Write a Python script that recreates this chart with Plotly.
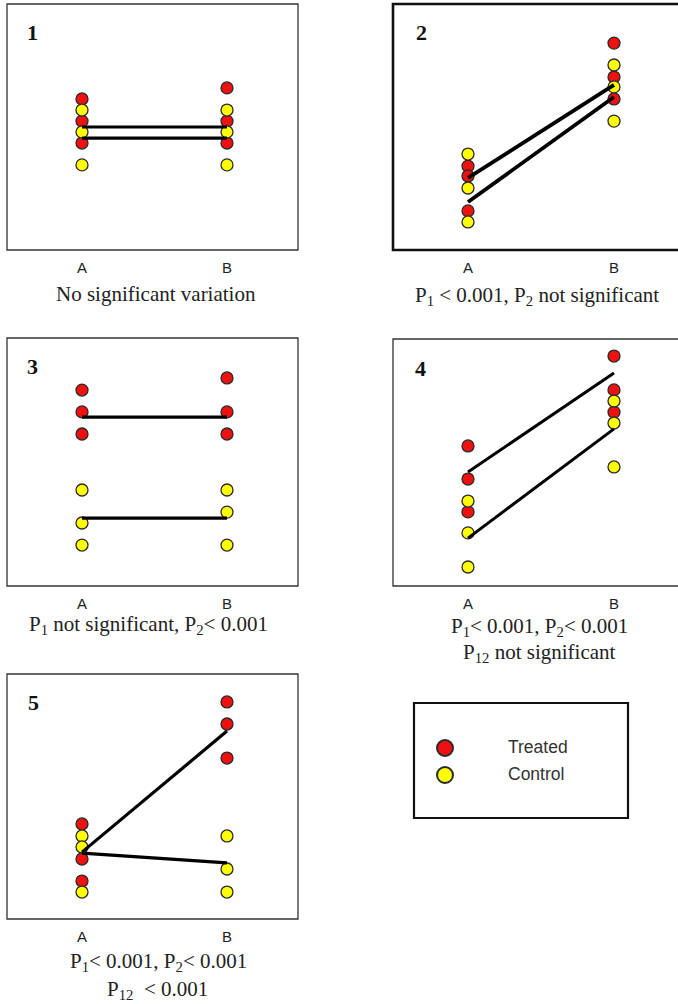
import plotly.graph_objects as go

W, H = 678, 1004

groups = ["A", "B"]

# Panel 1 (values on a 0-100 arbitrary scale)
p1_treated_A = [61.4, 52.4, 43.5]
p1_treated_B = [65.9, 52.4, 43.5]
p1_control_A = [56.9, 48.0, 34.6]
p1_control_B = [56.9, 48.0, 34.6]
p1_fit_treated = [50.0, 50.0]
p1_fit_control = [45.5, 45.5]

# Panel 2
p2_treated_A = [34.1, 30.1, 15.9]
p2_treated_B = [84.1, 70.3, 61.4]
p2_control_A = [39.0, 25.2, 11.4]
p2_control_B = [75.2, 66.3, 52.4]
p2_fit_treated = [29.3, 67.1]
p2_fit_control = [19.5, 62.2]

# Panel 3
p3_treated_A = [79.0, 70.2, 61.3]
p3_treated_B = [83.9, 70.2, 61.3]
p3_control_A = [38.7, 25.4, 16.5]
p3_control_B = [38.7, 29.8, 16.5]
p3_fit_treated = [68.1, 68.1]
p3_fit_control = [27.4, 27.4]

# Panel 4
p4_treated_A = [56.7, 43.3, 30.0]
p4_treated_B = [93.1, 79.4, 70.4]
p4_control_A = [34.4, 21.5, 7.7]
p4_control_B = [74.9, 66.0, 48.2]
p4_fit_treated = [46.2, 86.2]
p4_fit_control = [19.4, 63.6]

# Panel 5
p5_treated_A = [38.8, 24.5, 15.5]
p5_treated_B = [88.6, 79.6, 65.7]
p5_control_A = [33.9, 29.4, 11.0]
p5_control_B = [33.9, 20.4, 11.0]
p5_fit_treated = [27.3, 76.7]
p5_fit_control = [26.9, 22.9]

panel_labels = ["1", "2", "3", "4", "5"]
captions = [
    ["No significant variation"],
    ["P<sub>1</sub> < 0.001, P<sub>2</sub> not significant"],
    ["P<sub>1</sub> not significant, P<sub>2</sub>< 0.001"],
    ["P<sub>1</sub>< 0.001, P<sub>2</sub>< 0.001", "P<sub>12</sub> not significant"],
    ["P<sub>1</sub>< 0.001, P<sub>2</sub>< 0.001", "P<sub>12</sub>  < 0.001"],
]
legend_names = ["Treated", "Control"]

panels = [
    (p1_treated_A, p1_treated_B, p1_control_A, p1_control_B, p1_fit_treated, p1_fit_control),
    (p2_treated_A, p2_treated_B, p2_control_A, p2_control_B, p2_fit_treated, p2_fit_control),
    (p3_treated_A, p3_treated_B, p3_control_A, p3_control_B, p3_fit_treated, p3_fit_control),
    (p4_treated_A, p4_treated_B, p4_control_A, p4_control_B, p4_fit_treated, p4_fit_control),
    (p5_treated_A, p5_treated_B, p5_control_A, p5_control_B, p5_fit_treated, p5_fit_control),
]

# ---- layout geometry (pixels) ----
# left, right, top, bottom of each panel frame; x of category A; spacing A->B; border; fit width
geom = [
    (7, 298, 4, 250, 82, 145, 1.3, 3.2),
    (393, 690, 4, 250, 468, 146, 2.6, 3.8),
    (7, 298, 338, 586, 82, 145, 1.3, 3.2),
    (393, 690, 339, 586, 468, 146, 1.3, 3.0),
    (7, 298, 674, 919, 82, 145, 1.3, 3.2),
]
num_pos = [(32, 33), (421, 33), (32, 366), (420, 368), (33, 702)]
cap_pos = [
    [(156, 294)],
    [(537, 296)],
    [(148, 625)],
    [(539, 627), (539, 653)],
    [(158, 962), (157, 990)],
]

RED = "#f01010"
YEL = "#ffff00"
EDGE = "#2a2a2a"
SERIF = "Liberation Serif, Times New Roman, serif"
SANS = "Liberation Sans, Arial, sans-serif"

def px(x):
    return x / W

def py(y):
    return 1 - y / H

fig = go.Figure()
layout = dict(
    width=W, height=H, autosize=False,
    margin=dict(l=0, r=0, t=0, b=0),
    paper_bgcolor="white", plot_bgcolor="white",
    showlegend=False,
)
shapes = []
annotations = []

for i, (data, g) in enumerate(zip(panels, geom)):
    tA, tB, cA, cB, fT, fC = data
    left, right, top, bottom, xa, sp, bw, lw = g
    n = i + 1
    xs = "x" if n == 1 else f"x{n}"
    ys = "y" if n == 1 else f"y{n}"
    dom_r = min(right, W)
    xr = [(left - xa) / sp, (dom_r - xa) / sp]
    layout["xaxis" if n == 1 else f"xaxis{n}"] = dict(
        domain=[px(left), px(dom_r)], range=xr, anchor=ys,
        tickvals=[0, 1], ticktext=groups,
        ticks="outside", ticklen=4, tickcolor="rgba(0,0,0,0)",
        showgrid=False, zeroline=False, showline=False,
        tickfont=dict(family=SANS, size=15, color="#222"),
        fixedrange=True,
    )
    layout["yaxis" if n == 1 else f"yaxis{n}"] = dict(
        domain=[py(bottom), py(top)], range=[0, 100], anchor=xs,
        showgrid=False, zeroline=False, showline=False, showticklabels=False,
        fixedrange=True,
    )
    for vals_A, vals_B, col in [(tA, tB, RED), (cA, cB, YEL)]:
        fig.add_trace(go.Scatter(
            x=[0] * len(vals_A) + [1] * len(vals_B), y=vals_A + vals_B,
            mode="markers", xaxis=xs, yaxis=ys, cliponaxis=False,
            marker=dict(size=12, color=col, line=dict(color=EDGE, width=1.3)),
            hoverinfo="skip",
        ))
    for f in (fT, fC):
        fig.add_trace(go.Scatter(
            x=[0, 1], y=f, mode="lines", xaxis=xs, yaxis=ys,
            line=dict(color="black", width=lw), hoverinfo="skip",
        ))
    shapes.append(dict(
        type="rect", xref="paper", yref="paper",
        x0=px(left), x1=px(right), y0=py(bottom), y1=py(top),
        line=dict(color="#111" if bw > 2 else "#333", width=bw),
        fillcolor="rgba(0,0,0,0)", layer="above",
    ))
    nx, ny = num_pos[i]
    annotations.append(dict(
        text=f"<b>{panel_labels[i]}</b>", xref="paper", yref="paper",
        x=px(nx), y=py(ny), xanchor="center", yanchor="middle",
        showarrow=False, font=dict(family=SERIF, size=22, color="#111"),
    ))
    for txt, (cx, cy) in zip(captions[i], cap_pos[i]):
        annotations.append(dict(
            text=txt, xref="paper", yref="paper",
            x=px(cx), y=py(cy), xanchor="center", yanchor="middle",
            showarrow=False, font=dict(family=SERIF, size=21, color="#222"),
        ))

# ---- legend box ----
lg_left, lg_right, lg_top, lg_bottom = 414, 628, 703, 818
shapes.append(dict(
    type="rect", xref="paper", yref="paper",
    x0=px(lg_left), x1=px(lg_right), y0=py(lg_bottom), y1=py(lg_top),
    line=dict(color="#111", width=2.2), fillcolor="rgba(0,0,0,0)",
))
leg_rows = [748, 775]
layout["xaxis6"] = dict(domain=[px(lg_left), px(lg_right)], range=[lg_left, lg_right],
                        visible=False, anchor="y6", fixedrange=True)
layout["yaxis6"] = dict(domain=[py(lg_bottom), py(lg_top)], range=[lg_bottom, lg_top],
                        visible=False, anchor="x6", fixedrange=True)
for name, col, ry in zip(legend_names, [RED, YEL], leg_rows):
    fig.add_trace(go.Scatter(
        x=[445], y=[ry], mode="markers", xaxis="x6", yaxis="y6",
        marker=dict(size=16, color=col, line=dict(color=EDGE, width=2)),
        name=name, hoverinfo="skip", cliponaxis=False,
    ))
    annotations.append(dict(
        text=name, xref="paper", yref="paper",
        x=px(506), y=py(ry - 1), xanchor="left", yanchor="middle",
        showarrow=False, font=dict(family=SANS, size=17.5, color="#333"),
    ))

layout["shapes"] = shapes
layout["annotations"] = annotations
fig.update_layout(**layout)
fig.write_html(
    "out.html",
    config={"displayModeBar": False},
    post_script="document.body.style.margin='0px';document.body.style.overflow='hidden';",
)
